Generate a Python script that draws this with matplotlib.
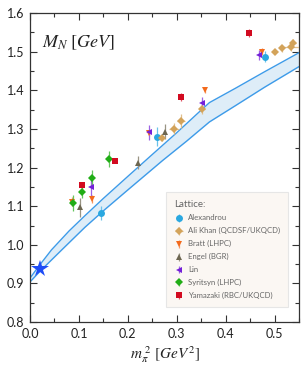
import numpy as np
import matplotlib
matplotlib.use('Agg')
import matplotlib.pyplot as plt
from matplotlib.colors import to_rgb
from matplotlib.ticker import MultipleLocator

plt.rcParams['font.family'] = ['Lato', 'DejaVu Sans']
plt.rcParams['mathtext.fontset'] = 'stix'

# band (chiral fit) edges
band_x_hi = [0.0, 0.02, 0.044, 0.08, 0.112, 0.15, 0.2, 0.245, 0.3, 0.347, 0.367, 0.42, 0.48, 0.55]
band_hi = [0.914, 0.948, 0.987, 1.036, 1.075, 1.120, 1.177, 1.228, 1.290, 1.345, 1.368, 1.405, 1.448, 1.497]
band_x_lo = [0.0, 0.02, 0.065, 0.112, 0.15, 0.2, 0.271, 0.32, 0.367, 0.42, 0.48, 0.55]
band_lo = [0.904, 0.931, 0.987, 1.045, 1.088, 1.142, 1.218, 1.268, 1.318, 1.360, 1.408, 1.461]

# physical point
phys_x = 0.0195
phys_y = 0.938

# lattice groups
names = ['Alexandrou', 'Ali Khan (QCDSF/UKQCD)', 'Bratt (LHPC)', 'Engel (BGR)',
         'Lin', 'Syritsyn (LHPC)', 'Yamazaki (RBC/UKQCD)']

alex_x = [0.146, 0.260, 0.480]
alex_y = [1.083, 1.280, 1.487]
alex_e = [0.018, 0.024, 0.015]

khan_x = [0.270, 0.295, 0.308, 0.352, 0.500, 0.515, 0.533, 0.538]
khan_y = [1.277, 1.300, 1.320, 1.351, 1.500, 1.508, 1.512, 1.522]
khan_e = [0.008, 0.014, 0.018, 0.012, 0.005, 0.008, 0.010, 0.010]
khan_xe = [0.005, 0.010, 0.008, 0.005, 0.004, 0.005, 0.018, 0.005]

bratt_x = [0.086, 0.127, 0.244, 0.357, 0.475]
bratt_y = [1.112, 1.119, 1.290, 1.400, 1.500]
bratt_e = [0.012, 0.010, 0.008, 0.007, 0.008]

engel_x = [0.102, 0.220, 0.277]
engel_y = [1.097, 1.213, 1.293]
engel_e = [0.025, 0.018, 0.020]

lin_x = [0.124, 0.244, 0.352, 0.469]
lin_y = [1.150, 1.291, 1.367, 1.491]
lin_e = [0.028, 0.020, 0.015, 0.014]

syr_x = [0.088, 0.107, 0.127, 0.162]
syr_y = [1.108, 1.137, 1.172, 1.222]
syr_e = [0.020, 0.017, 0.021, 0.020]

yam_x = [0.107, 0.173, 0.308, 0.448]
yam_y = [1.155, 1.218, 1.382, 1.548]
yam_e = [0.007, 0.005, 0.010, 0.011]

groups = [
    (alex_x, alex_y, alex_e, None, '#2aa8e0', 'o'),
    (khan_x, khan_y, khan_e, khan_xe, '#d3a35a', 'D'),
    (bratt_x, bratt_y, bratt_e, None, '#f36a1c', 'v'),
    (engel_x, engel_y, engel_e, None, '#6d6650', '^'),
    (lin_x, lin_y, lin_e, None, '#7420d8', '<'),
    (syr_x, syr_y, syr_e, None, '#21ad16', 'D'),
    (yam_x, yam_y, yam_e, None, '#d20a20', 's'),
]


def lighter(c, f=0.3):
    r, g, b = to_rgb(c)
    return (r + (1 - r) * f, g + (1 - g) * f, b + (1 - b) * f)


fig = plt.figure(figsize=(3.06, 3.69), dpi=100)
ax = fig.add_axes([0.098, 0.127, 0.879, 0.838])

# fill between the two edges on a common x grid
grid = np.union1d(band_x_hi, band_x_lo)
ax.fill_between(grid, np.interp(grid, band_x_lo, band_lo),
                np.interp(grid, band_x_hi, band_hi), color='#deedf8', lw=0, zorder=1)
ax.plot(band_x_hi, band_hi, color='#3d9be9', lw=1.0, zorder=2)
ax.plot(band_x_lo, band_lo, color='#3d9be9', lw=1.0, zorder=2)

handles = []
for (gx, gy, ge, gxe, col, mk), name in zip(groups, names):
    ms = 4.3 if mk == 'D' else 5
    h = ax.errorbar(gx, gy, yerr=ge, xerr=gxe, fmt=mk, color=col, ms=ms,
                    ecolor=lighter(col), elinewidth=0.9, capsize=2.4,
                    capthick=0.9, mew=0, label=name, zorder=4)
    handles.append(h)

ax.plot([phys_x], [phys_y], marker='*', color='#1e4cf6', ms=13, mew=0, zorder=5)

ax.set_xlim(0, 0.55)
ax.set_ylim(0.8, 1.6)
ax.xaxis.set_minor_locator(MultipleLocator(0.05))
ax.yaxis.set_minor_locator(MultipleLocator(0.05))
ax.set_xticks(np.arange(0, 0.51, 0.1))
ax.set_xticklabels(['0.0', '0.1', '0.2', '0.3', '0.4', '0.5'])
ax.set_yticks(np.arange(0.8, 1.61, 0.1))
ax.set_yticklabels(['0.8', '0.9', '1.0', '1.1', '1.2', '1.3', '1.4', '1.5', '1.6'])
ax.tick_params(which='both', direction='in', top=True, right=True,
               color='#333333', width=0.8, labelsize=9, labelcolor='#222222')
ax.tick_params(which='major', length=5, pad=4)
ax.tick_params(which='minor', length=3)
for s in ax.spines.values():
    s.set_color('#333333')
    s.set_linewidth(0.9)

ax.text(0.046, 0.905, r'$M_N\ [GeV]$', transform=ax.transAxes, fontsize=13,
        va='center', ha='left', color='#222222')
ax.set_xlabel(r'$m_\pi^{\ 2}\ [GeV^2]$', fontsize=11, color='#222222', labelpad=3)

leg = ax.legend(handles=handles, title='Lattice:', loc='lower right',
                bbox_to_anchor=(0.974, 0.036), fontsize=5.6, title_fontsize=7,
                frameon=True, fancybox=False, facecolor='#fbf7f3',
                edgecolor='#e6e6e6', framealpha=1, alignment='left',
                borderpad=1.0, labelspacing=0.75, handlelength=1.2,
                handletextpad=0.6)
leg.get_frame().set_linewidth(0.8)
leg.get_title().set_color('#666666')
for t in leg.get_texts():
    t.set_color('#666666')

fig.savefig('out.png', dpi=100)
